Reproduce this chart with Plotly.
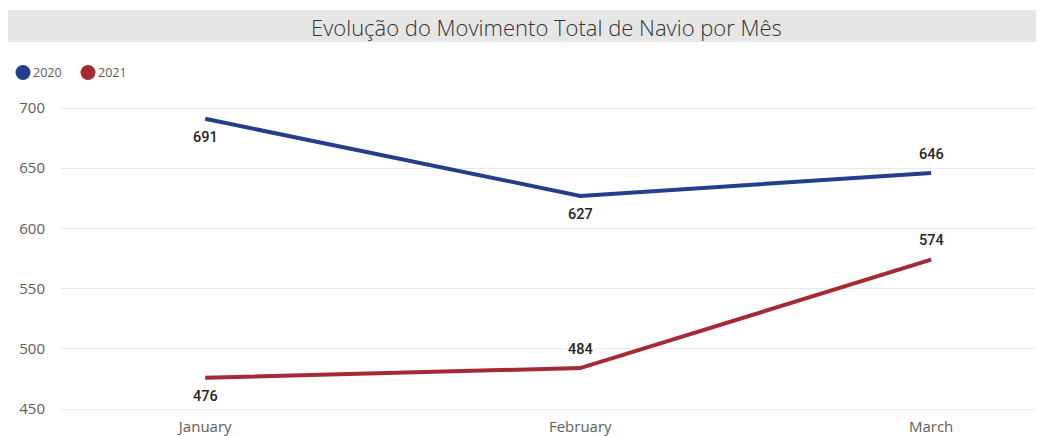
import plotly.graph_objects as go

months = ["January", "February", "March"]
month_dates = ["2020-01-01", "2020-02-01", "2020-03-01"]
series_names = ["2020", "2021"]
values_2020 = [691, 627, 646]
values_2021 = [476, 484, 574]
label_pos_2020 = [-1, -1, 1]   # -1 below, 1 above
label_pos_2021 = [-1, 1, 1]
colors = ["#233F8B", "#A62934"]
y_ticks = [450, 500, 550, 600, 650, 700]

OFF = 8  # page body margin
W, H = 1044 - OFF, 436 - OFF
# target plot area in window pixels: left 60, right 1040, top 106, bottom 411
ml, mt = 60 - OFF, 106 - OFF
mr = (1044 - OFF) - (1040 - OFF)
mb = (436 - OFF) - (411 - OFF)
pw, ph = W - ml - mr, H - mt - mb

def px(x):
    return (x - OFF - ml) / pw

def py(y):
    return (H - mb - (y - OFF)) / ph

fig = go.Figure()
for name, vals, col in [(series_names[0], values_2020, colors[0]),
                        (series_names[1], values_2021, colors[1])]:
    fig.add_trace(go.Scatter(x=month_dates, y=vals, mode="lines", name=name,
                             line=dict(color=col, width=4), showlegend=False,
                             hoverinfo="x+y"))

annotations = []
for vals, pos in [(values_2020, label_pos_2020), (values_2021, label_pos_2021)]:
    for d, v, p in zip(month_dates, vals, pos):
        annotations.append(dict(x=d, y=v, xref="x", yref="y", text=str(v),
                                showarrow=False, yshift=19 * p,
                                font=dict(family="Roboto", size=14.5, color="#252423", weight=500)))

# title
annotations.append(dict(x=px(546), y=py(27), xref="paper", yref="paper",
                        text="Evolução do Movimento Total de Navio por Mês", showarrow=False,
                        xanchor="center", yanchor="middle",
                        font=dict(family="Open Sans", size=22, color="#333333", weight=300)))

# legend texts
for name, xl in zip(series_names, [31, 96]):
    annotations.append(dict(x=px(xl), y=py(72), xref="paper", yref="paper", text=name,
                            showarrow=False, xanchor="left", yanchor="middle",
                            font=dict(family="Open Sans", size=12.5, color="#605E5C")))

shapes = [dict(type="rect", xref="paper", yref="paper", x0=px(5), x1=px(1044),
               y0=py(42), y1=py(10), fillcolor="#E6E6E6", line=dict(width=0), layer="below")]
for col, cx in zip(colors, [23, 88]):
    shapes.append(dict(type="circle", xref="paper", yref="paper",
                       x0=px(cx - 7.5), x1=px(cx + 7.5), y0=py(80), y1=py(65),
                       fillcolor=col, line=dict(width=0)))

fig.update_layout(
    width=W, height=H,
    margin=dict(l=ml, r=mr, t=mt, b=mb),
    paper_bgcolor="white", plot_bgcolor="white",
    showlegend=False,
    annotations=annotations, shapes=shapes,
    xaxis=dict(type="date", range=["2019-12-20", "2020-03-10"], automargin=False,
               tickvals=month_dates, ticktext=months, showgrid=False, zeroline=False,
               showline=False, ticks="", ticklabelstandoff=5,
               tickfont=dict(family="Open Sans", size=15, color="#605E5C")),
    yaxis=dict(range=[448.34, 701.66], tickvals=y_ticks, showgrid=True, automargin=False,
               gridcolor="#EBEBEB", gridwidth=1, zeroline=False, showline=False,
               ticks="", ticklabelstandoff=14,
               tickfont=dict(family="Open Sans", size=15, color="#605E5C")),
)

fig.write_html("out.html")
